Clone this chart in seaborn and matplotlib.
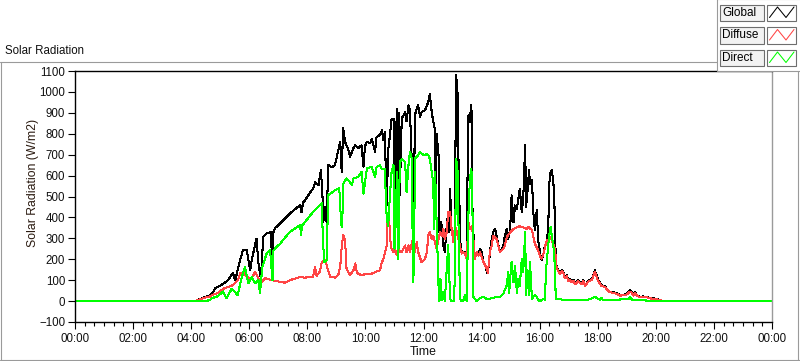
import matplotlib
matplotlib.use("Agg")
import matplotlib.pyplot as plt
import numpy as np
import seaborn as sns
from matplotlib.patches import Rectangle
from matplotlib.ticker import MultipleLocator, FuncFormatter

# Readings (time of day, W/m2)
global_t = [
    "00:00", "04:08", "04:29", "04:39", "04:45", "04:49", "04:55", "05:08", "05:16", "05:26",
    "05:31", "05:41", "05:47", "05:55", "06:02", "06:05", "06:15", "06:19", "06:24", "06:29",
    "06:36", "06:45", "06:48", "06:50", "06:53", "07:04", "07:14", "07:24", "07:45", "07:48",
    "07:51", "07:55", "08:12", "08:16", "08:23", "08:28", "08:31", "08:33", "08:37", "08:40",
    "08:43", "08:51", "08:57", "09:08", "09:11", "09:14", "09:18", "09:25", "09:28", "09:35",
    "09:39", "09:45", "09:52", "09:56", "09:59", "10:03", "10:10", "10:13", "10:20", "10:23",
    "10:30", "10:34", "10:37", "10:40", "10:44", "10:47", "10:51", "10:54", "10:58", "11:00",
    "11:05", "11:07", "11:09", "11:11", "11:15", "11:22", "11:25", "11:29", "11:32", "11:36",
    "11:39", "11:41", "11:42", "11:46", "11:49", "11:53", "11:56", "12:03", "12:07", "12:10",
    "12:13", "12:17", "12:20", "12:24", "12:25", "12:27", "12:31", "12:33", "12:35", "12:38",
    "12:41", "12:44", "12:48", "12:51", "12:53", "12:55", "12:58", "13:02", "13:05", "13:07",
    "13:10", "13:12", "13:14", "13:15", "13:19", "13:22", "13:26", "13:29", "13:31", "13:33",
    "13:36", "13:38", "13:40", "13:41", "13:43", "13:46", "13:50", "13:53", "13:57", "14:00",
    "14:04", "14:07", "14:11", "14:13", "14:16", "14:19", "14:21", "14:24", "14:28", "14:31",
    "14:35", "14:38", "14:42", "14:45", "14:48", "14:52", "14:55", "14:59", "15:02", "15:06",
    "15:09", "15:13", "15:16", "15:19", "15:23", "15:26", "15:30", "15:32", "15:35", "15:38",
    "15:40", "15:44", "15:47", "15:50", "15:54", "15:57", "16:01", "16:04", "16:08", "16:11",
    "16:15", "16:18", "16:19", "16:21", "16:25", "16:28", "16:30", "16:32", "16:33", "16:35",
    "16:39", "16:42", "16:46", "16:49", "16:52", "16:56", "16:59", "17:03", "17:06", "17:10",
    "17:13", "17:20", "17:23", "17:27", "17:30", "17:34", "17:41", "17:48", "17:54", "18:01",
    "18:08", "18:15", "18:19", "18:25", "18:32", "18:39", "18:46", "18:53", "19:00", "19:07",
    "19:10", "19:14", "19:17", "19:21", "19:27", "19:34", "19:41", "19:48", "19:55", "20:02",
    "20:09", "20:16", "24:00",
]
global_v = [
    0, 0, 20, 28, 40, 61, 67, 85, 100, 135,
    100, 195, 243, 243, 147, 195, 299, 180, 109, 307,
    323, 330, 115, 330, 348, 372, 396, 419, 459, 425,
    470, 482, 539, 567, 553, 626, 520, 379, 450, 372,
    650, 640, 650, 762, 618, 826, 760, 722, 690, 730,
    745, 730, 745, 642, 740, 762, 755, 775, 714, 785,
    794, 816, 770, 810, 457, 720, 800, 872, 872, 521,
    920, 420, 900, 505, 872, 904, 860, 936, 911, 650,
    270, 600, 888, 920, 936, 880, 904, 912, 936, 952,
    991, 904, 860, 815, 500, 800, 700, 329, 380, 361,
    266, 234, 361, 425, 330, 537, 329, 297, 345, 1079,
    1031, 700, 537, 297, 234, 229, 234, 202, 600, 888,
    856, 936, 888, 457, 329, 202, 229, 229, 250, 234,
    186, 178, 138, 133, 202, 266, 297, 329, 345, 313,
    266, 234, 250, 266, 313, 345, 297, 345, 505, 377,
    457, 441, 489, 537, 425, 489, 745, 450, 530, 626,
    560, 580, 420, 339, 435, 291, 227, 195, 227, 267,
    280, 371, 498, 610, 626, 578, 500, 339, 211, 163,
    147, 135, 147, 140, 115, 125, 100, 105, 95, 100,
    84, 100, 92, 84, 100, 76, 100, 105, 147, 100,
    76, 71, 58, 44, 42, 38, 28, 30, 35, 52,
    45, 28, 45, 28, 20, 22, 20, 15, 13, 9,
    5, 0, 0,
]

diffuse_t = [
    "00:00", "04:08", "04:29", "04:39", "04:45", "04:55", "05:08", "05:26", "05:37", "05:41",
    "05:49", "05:55", "06:05", "06:12", "06:19", "06:26", "06:33", "06:46", "07:14", "07:24",
    "07:45", "07:55", "08:06", "08:12", "08:16", "08:19", "08:26", "08:30", "08:37", "08:40",
    "08:47", "08:57", "09:04", "09:08", "09:11", "09:14", "09:18", "09:21", "09:28", "09:35",
    "09:39", "09:42", "09:45", "09:52", "10:03", "10:13", "10:20", "10:23", "10:30", "10:34",
    "10:37", "10:44", "10:46", "10:49", "10:51", "10:54", "10:58", "11:01", "11:05", "11:08",
    "11:11", "11:15", "11:22", "11:25", "11:29", "11:32", "11:36", "11:39", "11:42", "11:46",
    "11:49", "11:56", "12:03", "12:07", "12:10", "12:13", "12:17", "12:20", "12:24", "12:27",
    "12:31", "12:34", "12:38", "12:41", "12:44", "12:48", "12:51", "12:55", "12:58", "13:02",
    "13:05", "13:09", "13:12", "13:15", "13:19", "13:22", "13:26", "13:29", "13:33", "13:36",
    "13:40", "13:43", "13:46", "13:50", "13:53", "13:57", "14:04", "14:11", "14:13", "14:17",
    "14:21", "14:24", "14:31", "14:38", "14:45", "14:48", "14:52", "14:59", "15:06", "15:13",
    "15:19", "15:26", "15:33", "15:37", "15:44", "15:47", "15:50", "15:57", "16:01", "16:04",
    "16:08", "16:11", "16:15", "16:18", "16:21", "16:25", "16:28", "16:32", "16:35", "16:39",
    "16:42", "16:46", "16:49", "16:52", "16:56", "16:59", "17:03", "17:06", "17:10", "17:13",
    "17:20", "17:23", "17:27", "17:30", "17:34", "17:41", "17:48", "17:54", "18:01", "18:08",
    "18:15", "18:19", "18:25", "18:32", "18:39", "18:46", "18:53", "19:00", "19:07", "19:10",
    "19:14", "19:17", "19:21", "19:27", "19:34", "19:41", "19:48", "19:55", "20:02", "20:09",
    "20:16", "24:00",
]
diffuse_v = [
    0, 0, 17, 22, 30, 39, 61, 76, 100, 133,
    136, 115, 109, 139, 109, 91, 109, 100, 88, 100,
    115, 112, 115, 117, 163, 120, 141, 187, 195, 170,
    117, 112, 125, 165, 260, 315, 290, 155, 124, 146,
    180, 140, 131, 124, 131, 131, 138, 141, 147, 186,
    200, 266, 409, 398, 300, 250, 234, 250, 218, 266,
    234, 234, 266, 234, 266, 234, 281, 297, 234, 281,
    234, 186, 202, 234, 314, 329, 297, 313, 281, 250,
    297, 329, 313, 345, 297, 329, 425, 425, 345, 281,
    361, 329, 297, 266, 227, 234, 227, 202, 377, 345,
    361, 297, 202, 234, 218, 234, 186, 154, 133, 234,
    266, 313, 297, 234, 250, 266, 305, 329, 345, 353,
    358, 353, 345, 355, 339, 307, 275, 243, 211, 203,
    227, 259, 291, 291, 307, 291, 275, 243, 160, 140,
    130, 142, 135, 110, 120, 95, 100, 90, 95, 80,
    95, 88, 80, 95, 72, 95, 100, 140, 95, 72,
    67, 55, 42, 40, 35, 26, 28, 32, 45, 40,
    26, 40, 26, 18, 20, 18, 13, 11, 8, 4,
    0, 0,
]

direct_t = [
    "00:00", "04:29", "04:39", "04:42", "04:55", "05:06", "05:13", "05:24", "05:36", "05:44",
    "05:51", "05:58", "06:05", "06:12", "06:19", "06:22", "06:27", "06:36", "06:43", "06:48",
    "06:50", "06:53", "07:04", "07:14", "07:24", "07:45", "07:47", "07:49", "07:55", "08:12",
    "08:26", "08:30", "08:32", "08:35", "08:40", "08:43", "08:57", "09:06", "09:10", "09:12",
    "09:14", "09:21", "09:28", "09:32", "09:35", "09:45", "09:52", "09:56", "10:03", "10:13",
    "10:20", "10:23", "10:30", "10:34", "10:40", "10:44", "10:47", "10:51", "10:54", "10:58",
    "11:00", "11:03", "11:05", "11:08", "11:11", "11:15", "11:22", "11:25", "11:29", "11:32",
    "11:36", "11:37", "11:39", "11:41", "11:42", "11:49", "11:53", "11:56", "12:03", "12:07",
    "12:10", "12:13", "12:17", "12:20", "12:22", "12:24", "12:28", "12:31", "12:33", "12:35",
    "12:38", "12:41", "12:44", "12:48", "12:51", "12:55", "12:58", "13:02", "13:05", "13:07",
    "13:10", "13:12", "13:14", "13:15", "13:19", "13:22", "13:26", "13:29", "13:33", "13:35",
    "13:38", "13:40", "13:42", "13:43", "13:46", "13:50", "13:57", "14:04", "14:11", "14:17",
    "14:24", "14:31", "14:38", "14:45", "14:48", "14:52", "14:55", "14:57", "14:59", "15:02",
    "15:06", "15:09", "15:13", "15:16", "15:19", "15:23", "15:26", "15:30", "15:32", "15:35",
    "15:38", "15:40", "15:44", "15:47", "15:50", "15:54", "15:57", "16:01", "16:04", "16:08",
    "16:11", "16:13", "16:15", "16:18", "16:21", "16:23", "16:25", "16:28", "16:32", "16:33",
    "16:35", "17:03", "17:23", "17:44", "17:54", "18:05", "18:08", "18:11", "19:04", "19:07",
    "19:12", "20:16", "24:00",
]
direct_v = [
    0, 0, 5, 13, 23, 46, 13, 60, 28, 109,
    163, 85, 115, 85, 100, 37, 163, 228, 243, 100,
    240, 251, 275, 304, 331, 363, 315, 360, 378, 427,
    459, 467, 300, 187, 195, 506, 530, 539, 363, 355,
    560, 586, 570, 553, 586, 594, 618, 514, 634, 642,
    594, 640, 650, 630, 630, 393, 361, 520, 617, 650,
    250, 393, 617, 202, 664, 680, 664, 520, 650, 712,
    680, 393, 90, 300, 680, 697, 712, 704, 697, 704,
    697, 680, 617, 570, 345, 617, 297, 74, 0, 106,
    5, 42, 0, 150, 266, 10, 0, 0, 106, 680,
    650, 393, 202, 10, 0, 0, 30, 0, 425, 537,
    632, 610, 297, 20, 10, 0, 15, 20, 10, 12,
    15, 20, 20, 34, 55, 74, 138, 40, 106, 186,
    90, 170, 40, 106, 74, 202, 138, 330, 30, 147,
    30, 186, 10, 20, 28, 20, 5, 0, 5, 10,
    5, 147, 195, 275, 339, 355, 307, 275, 150, 20,
    9, 5, 5, 8, 20, 5, 15, 3, 10, 18,
    5, 0, 0,
]

series_names = ["Global", "Diffuse", "Direct"]
series_colors = ["#000000", "#ff4545", "#00ff00"]

x_tick_hours = list(range(0, 25, 2))
y_ticks = list(range(-100, 1101, 100))


def to_hours(stamps):
    out = []
    for s in stamps:
        h, m = s.split(":")
        out.append(int(h) + int(m) / 60.0)
    return np.array(out)


sns.set_style("white")
plt.rcParams["font.family"] = ["Liberation Sans", "DejaVu Sans"]
plt.rcParams["font.size"] = 8

W, H = 800, 361
fig = plt.figure(figsize=(W / 100, H / 100), dpi=100)
fig.patch.set_facecolor("white")

# outer frame in pixel coords
frame = fig.add_axes([0, 0, 1, 1], zorder=0)
frame.set_xlim(0, W)
frame.set_ylim(H, 0)
frame.axis("off")
gray = "#9a9a9a"
frame.plot([0, 717], [62, 62], color=gray, lw=0.8)
frame.plot([0.5, 0.5], [62, H], color=gray, lw=0.8)
frame.plot([0, W], [360, 360], color=gray, lw=0.8)
frame.plot([797.5, 797.5], [62, H], color=gray, lw=0.8)
fig.text(5 / W, 1 - 54.5 / H, "Solar Radiation", fontsize=8.3, va="baseline", ha="left",
         color="#101010")

# plot area
ax = fig.add_axes([75 / W, 1 - 322 / H, 697 / W, 251 / H], zorder=1)
ax.set_facecolor("white")

series = [(global_t, global_v), (diffuse_t, diffuse_v), (direct_t, direct_v)]
for (t, v), name, col in zip(series, series_names, series_colors):
    sns.lineplot(x=to_hours(t), y=np.array(v), ax=ax, color=col, lw=0.75,
                 estimator=None, sort=False, legend=False, antialiased=False)

ax.set_xlim(0, 24)
ax.set_ylim(-100, 1100)
ax.set_xticks(x_tick_hours)
ax.xaxis.set_major_formatter(FuncFormatter(lambda v, p: f"{int(round(v)) % 24:02d}:00"))
ax.xaxis.set_minor_locator(MultipleLocator(1 / 3))
ax.set_yticks(y_ticks)
ax.tick_params(axis="both", which="major", direction="out", length=5, width=0.8,
               color="black", labelsize=8.3, labelcolor="#101010", pad=2)
ax.tick_params(axis="x", which="minor", direction="out", length=3, width=0.8, color="black")
ax.tick_params(axis="x", which="major", pad=3)
ax.tick_params(bottom=True, left=True, which="both")
ax.tick_params(axis="y", which="minor", left=False)

for side in ["top", "left", "bottom"]:
    ax.spines[side].set_color("black")
    ax.spines[side].set_linewidth(1.0)
ax.spines["right"].set_color(gray)
ax.spines["right"].set_linewidth(1.0)

ax.set_ylabel("Solar Radiation (W/m2)", fontsize=8.8, color="#2a1a10")
ax.yaxis.set_label_coords((39 - 75) / 697, (322 - 183) / 251)
ax.set_xlabel("Time", fontsize=8.8, color="#101010")
ax.xaxis.set_label_coords(0.5, (322 - 346) / 251)

# legend panel, drawn in pixel coords
leg = fig.add_axes([0, 0, 1, 1], zorder=3)
leg.set_xlim(0, W)
leg.set_ylim(H, 0)
leg.axis("off")
leg.patch.set_alpha(0)
leg.add_patch(Rectangle((716.5, -1), 84, 71.5, facecolor="white", edgecolor=gray, lw=0.8))
rows_top = [4.5, 27, 49.5]
for name, col, top in zip(series_names, series_colors, rows_top):
    leg.add_patch(Rectangle((719.5, top), 44, 16.5, facecolor="#f2f2f2", edgecolor="#6e6e6e", lw=0.8))
    leg.text(722, top + 8.5, name, fontsize=8.5, va="center", ha="left", color="black")
    leg.add_patch(Rectangle((767, top), 29, 16.5, facecolor="white", edgecolor="#6e6e6e", lw=0.8))
    leg.plot([769.5, 777.5, 786, 794], [top + 13, top + 2.5, top + 13, top + 2.5],
             color=col, lw=0.75)

fig.savefig("out.png", dpi=100, facecolor="white")
